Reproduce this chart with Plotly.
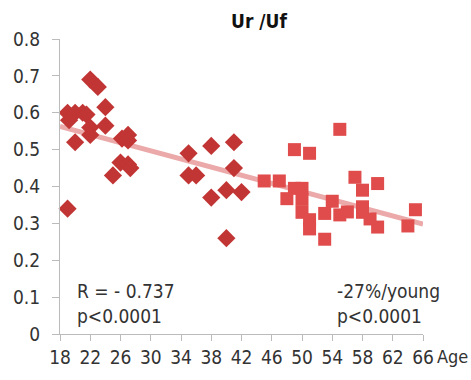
import plotly.graph_objects as go

# Young subjects (diamonds)
young_age = [22, 23, 19, 20, 21, 21.5, 19.2, 24, 20, 22, 22, 24, 26.2, 27, 27, 26, 27, 27.3, 25, 19,
             35, 35, 36, 38, 38, 40, 41, 41, 42, 40]
young_val = [0.69, 0.67, 0.60, 0.60, 0.60, 0.595, 0.58, 0.615, 0.52, 0.56, 0.54, 0.565, 0.53, 0.54, 0.525,
             0.465, 0.46, 0.45, 0.43, 0.34,
             0.49, 0.43, 0.43, 0.51, 0.37, 0.39, 0.52, 0.45, 0.385, 0.26]

# Older subjects (squares)
old_age = [45, 47, 49, 51, 55, 48, 49, 50, 50, 50, 51, 51, 53, 53, 54, 55, 56,
           57, 58, 60, 58, 58, 59, 60, 64, 65]
old_val = [0.415, 0.415, 0.50, 0.49, 0.555, 0.367, 0.395, 0.395, 0.365, 0.33, 0.31, 0.285, 0.257,
           0.327, 0.36, 0.323, 0.331,
           0.425, 0.39, 0.408, 0.345, 0.33, 0.312, 0.29, 0.293, 0.337]

trend_x = [18, 66]
trend_y = [0.563, 0.298]

x_ticks = list(range(18, 67, 4))
y_ticks = [0, 0.1, 0.2, 0.3, 0.4, 0.5, 0.6, 0.7, 0.8]
y_labels = ["0", "0.1", "0.2", "0.3", "0.4", "0.5", "0.6", "0.7", "0.8"]

FONT = "DejaVu Sans Condensed, Liberation Sans Narrow, sans-serif"
FS = 19

W, H = 471, 380
L, R, T, B = 60, 48, 39, 38
PW, PH = W - L - R, H - T - B

fig = go.Figure()
fig.add_trace(go.Scatter(x=trend_x, y=trend_y, mode="lines",
                         line=dict(color="#EBA9A9", width=5), hoverinfo="skip"))
fig.add_trace(go.Scatter(x=young_age, y=young_val, mode="markers",
                         marker=dict(symbol="diamond", size=14, color="#C23535"), cliponaxis=False))
fig.add_trace(go.Scatter(x=old_age, y=old_val, mode="markers",
                         marker=dict(symbol="square", size=13, color="#E04C4C"), cliponaxis=False))

fig.update_layout(
    width=W, height=H,
    margin=dict(l=L, r=R, t=T, b=B),
    paper_bgcolor="white", plot_bgcolor="white",
    showlegend=False,
    font=dict(family=FONT, size=FS, color="#333333"),
    title=dict(text="<b>Ur /Uf</b>", x=259 / W, xanchor="center", y=1 - 21 / H, yanchor="middle",
               font=dict(family=FONT, size=FS, color="#111111")),
    xaxis=dict(range=[18, 66], tickvals=x_ticks, showgrid=False, zeroline=False,
               showline=True, linecolor="#BBBBBB", linewidth=1,
               ticks="outside", ticklen=6, tickcolor="#BBBBBB",
               tickfont=dict(family=FONT, size=FS, color="#333333")),
    yaxis=dict(range=[0, 0.8], tickvals=y_ticks, ticktext=y_labels, showgrid=False, zeroline=False,
               showline=True, linecolor="#BBBBBB", linewidth=1,
               ticks="outside", ticklen=7, tickcolor="#BBBBBB", ticklabelstandoff=8,
               tickfont=dict(family=FONT, size=FS, color="#333333")),
    annotations=[
        dict(text="Age", xref="paper", yref="paper", x=(470 - L) / PW, y=-23 / PH,
             xanchor="right", yanchor="middle", showarrow=False,
             font=dict(family=FONT, size=18, color="#333333")),
        dict(text="R = - 0.737<br>p<0.0001", xref="paper", yref="paper", x=15 / PW,
             y=31 / PH, xanchor="left", yanchor="middle", align="left", showarrow=False,
             font=dict(family=FONT, size=FS, color="#333333")),
        dict(text="-27%/young<br>p<0.0001", xref="paper", yref="paper", x=275 / PW,
             y=31 / PH, xanchor="left", yanchor="middle", align="left", showarrow=False,
             font=dict(family=FONT, size=FS, color="#333333")),
    ],
)

fig.write_html("out.html", config={"displayModeBar": False},
               post_script="document.body.style.margin='0';document.body.style.overflow='hidden';")
